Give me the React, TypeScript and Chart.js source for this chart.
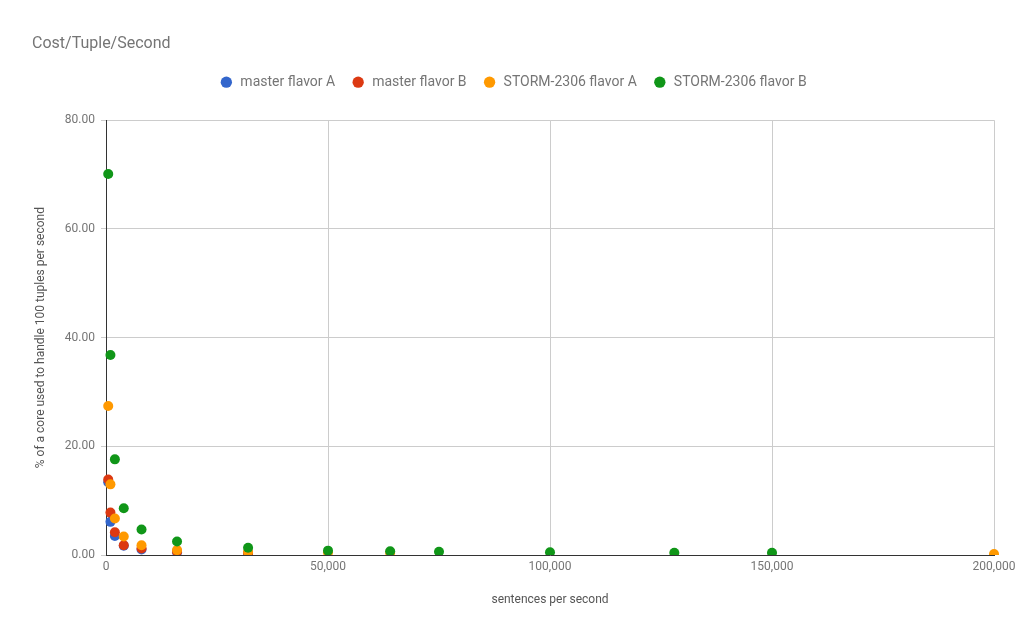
import { useEffect, useRef } from "react";
import { Chart, registerables } from "chart.js";

Chart.register(...registerables);

// sentences per second (x) and % of a core per 100 tuples/s (y)
const masterAX = [500, 1000, 2000, 4000, 8000, 16000, 32000];
const masterAY = [13.4, 6.1, 3.5, 1.7, 1.0, 0.5, 0.3];

const masterBX = [500, 1000, 2000, 4000, 8000, 16000, 32000];
const masterBY = [13.9, 7.8, 4.2, 1.8, 1.2, 0.6, 0.35];

const stormAX = [500, 1000, 2000, 4000, 8000, 16000, 32000, 50000, 64000, 200000];
const stormAY = [27.4, 13.0, 6.7, 3.4, 1.8, 0.9, 0.55, 0.45, 0.4, 0.18];

const stormBX = [500, 1000, 2000, 4000, 8000, 16000, 32000, 50000, 64000, 75000, 100000, 128000, 150000];
const stormBY = [70.1, 36.8, 17.6, 8.6, 4.7, 2.5, 1.35, 0.8, 0.68, 0.6, 0.5, 0.43, 0.42];

const toPoints = (xs: number[], ys: number[]) => xs.map((x, i) => ({ x, y: ys[i] }));

const FONT = "Roboto";

export default function App() {
  const chartRef = useRef<HTMLCanvasElement>(null);
  const chartInstance = useRef<Chart | null>(null);

  useEffect(() => {
    if (!chartRef.current) return;
    const ctx = chartRef.current.getContext("2d");
    if (!ctx) return;

    const ds = (label: string, color: string, xs: number[], ys: number[]) => ({
      label,
      data: toPoints(xs, ys),
      backgroundColor: color,
      borderColor: color,
      pointRadius: 5,
      pointBorderWidth: 0,
      pointStyle: "circle" as const,
    });

    // first dataset is drawn on top, so green goes first; legend is reversed
    chartInstance.current = new Chart(ctx, {
      type: "scatter",
      data: {
        datasets: [
          ds("STORM-2306 flavor B", "#109618", stormBX, stormBY),
          ds("STORM-2306 flavor A", "#ff9900", stormAX, stormAY),
          ds("master flavor B", "#dc3912", masterBX, masterBY),
          ds("master flavor A", "#3366cc", masterAX, masterAY),
        ],
      },
      options: {
        responsive: true,
        maintainAspectRatio: false,
        animation: false,
        layout: { padding: { top: 34, left: 32, right: 39, bottom: 0 } },
        plugins: {
          title: {
            display: true,
            text: "Cost/Tuple/Second",
            align: "start",
            color: "#757575",
            font: { family: FONT, size: 16, weight: "normal" },
            padding: { top: 0, bottom: 6 },
          },
          legend: {
            position: "top",
            reverse: true,
            labels: {
              usePointStyle: true,
              boxWidth: 14,
              boxHeight: 8,
              padding: 16,
              color: "#757575",
              font: { family: FONT, size: 14 },
            },
          },
          tooltip: { enabled: false },
        },
        scales: {
          spacer: {
            type: "linear",
            position: "top",
            display: true,
            grid: { display: false },
            ticks: { display: false },
            border: { display: false },
            afterFit: (s: any) => {
              s.height = 21;
            },
          },
          x: {
            type: "linear",
            min: 0,
            max: 200000,
            ticks: {
              stepSize: 50000,
              color: "#757575",
              padding: 5,
              font: { family: FONT, size: 12 },
              callback: (v: any) => Number(v).toLocaleString("en-US"),
            },
            grid: { color: "#cccccc", drawTicks: false },
            border: { color: "#333333", width: 1 },
            title: {
              display: true,
              text: "sentences per second",
              color: "#555555",
              font: { family: FONT, size: 12 },
              padding: { top: 4, bottom: 32 },
            },
            afterFit: (s: any) => {
              s.height = 84;
            },
          },
          y: {
            type: "linear",
            min: 0,
            max: 80,
            ticks: {
              stepSize: 20,
              color: "#757575",
              padding: 6,
              font: { family: FONT, size: 12 },
              callback: (v: any) => Number(v).toFixed(2),
            },
            grid: { color: "#cccccc", tickLength: 5 },
            border: { color: "#333333", width: 1 },
            title: {
              display: true,
              text: "% of a core used to handle 100 tuples per second",
              color: "#555555",
              font: { family: FONT, size: 12 },
              padding: { top: 2, bottom: 2 },
            },
            afterFit: (s: any) => {
              s.width = 74;
            },
          },
        },
      },
    });

    return () => {
      if (chartInstance.current) {
        chartInstance.current.destroy();
        chartInstance.current = null;
      }
    };
  }, []);

  return (
    <div style={{ position: "fixed", left: 0, top: 0, width: 1033, height: 639, background: "#fff" }}>
      <canvas ref={chartRef}></canvas>
    </div>
  );
}
